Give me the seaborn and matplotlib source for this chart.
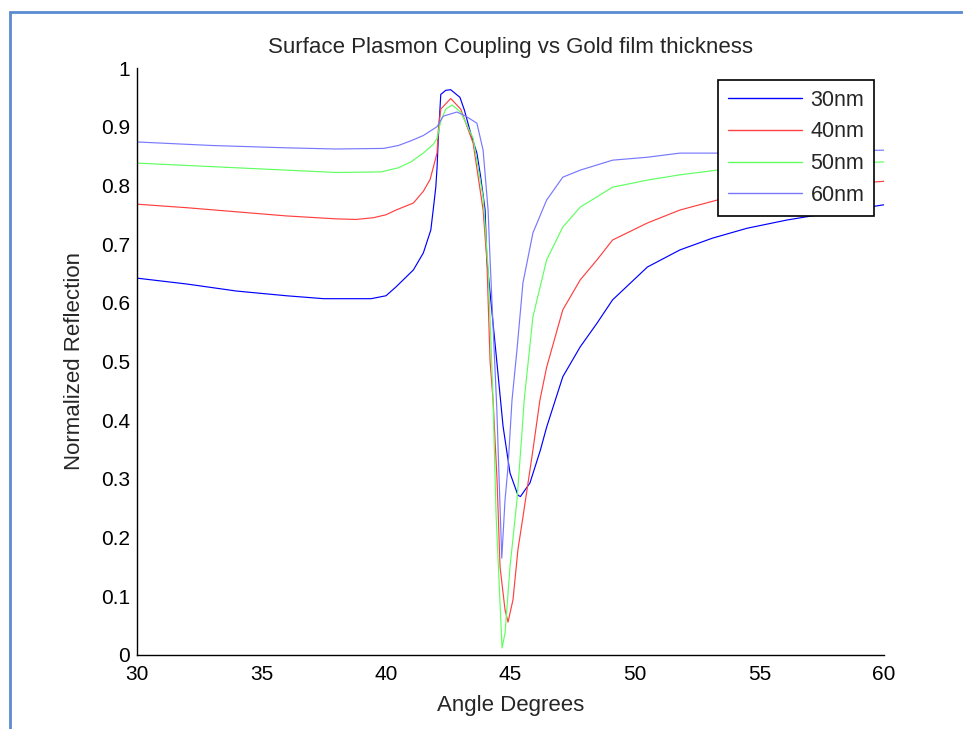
import numpy as np
import pandas as pd
import matplotlib
matplotlib.use("Agg")
import matplotlib.pyplot as plt
import seaborn as sns
from matplotlib.patches import Rectangle

# ---- data ----
x30 = [30, 32, 34, 36, 37.5, 39.4, 40.0, 40.4, 41.1, 41.5, 41.8, 41.9, 42.0, 42.05, 42.1, 42.2, 42.4, 42.6,
       42.97, 43.15, 43.4, 43.65, 43.8, 43.98, 44.05, 44.18, 44.45, 44.7, 44.98, 45.3, 45.4, 45.78, 46.2,
       46.45, 47.1, 47.8, 48.47, 49.1, 50.5, 51.8, 53.1, 54.5, 56.1, 57.1, 58.5, 60]
y30 = [0.642, 0.632, 0.620, 0.612, 0.607, 0.607, 0.612, 0.627, 0.656, 0.685, 0.724, 0.760, 0.797, 0.830, 0.880,
       0.955, 0.962, 0.963, 0.950, 0.928, 0.889, 0.855, 0.815, 0.758, 0.673, 0.617, 0.500, 0.390, 0.310, 0.272,
       0.270, 0.293, 0.349, 0.388, 0.474, 0.525, 0.565, 0.605, 0.661, 0.690, 0.710, 0.727, 0.741, 0.748, 0.757, 0.767]

x40 = [30, 32, 34, 36, 38, 38.8, 39.5, 40.0, 40.4, 41.1, 41.5, 41.77, 42.05, 42.1, 42.2, 42.6, 43.0, 43.5,
       43.9, 44.05, 44.18, 44.3, 44.46, 44.58, 44.78, 44.9, 45.1, 45.3, 45.5, 45.9, 46.18, 46.45, 47.1, 47.8,
       48.47, 49.1, 50.5, 51.8, 53.3, 55, 57, 60]
y40 = [0.768, 0.762, 0.755, 0.748, 0.743, 0.742, 0.745, 0.750, 0.758, 0.770, 0.790, 0.810, 0.855, 0.894, 0.930,
       0.948, 0.930, 0.872, 0.758, 0.673, 0.500, 0.434, 0.298, 0.150, 0.077, 0.056, 0.094, 0.180, 0.235, 0.349,
       0.434, 0.490, 0.588, 0.639, 0.673, 0.707, 0.736, 0.758, 0.775, 0.788, 0.798, 0.807]

x50 = [30, 33, 36, 38, 39.8, 40.5, 41.0, 41.5, 41.9, 42.05, 42.2, 42.4, 42.65, 43.0, 43.5, 43.9, 44.1, 44.2,
       44.3, 44.42, 44.66, 44.78, 44.98, 45.26, 45.46, 45.55, 45.9, 46.45, 47.1, 47.8, 49.1, 50.5, 51.8, 53.3,
       55, 60]
y50 = [0.838, 0.832, 0.826, 0.822, 0.823, 0.830, 0.840, 0.855, 0.870, 0.880, 0.910, 0.930, 0.937, 0.925, 0.880,
       0.780, 0.660, 0.550, 0.434, 0.240, 0.012, 0.037, 0.150, 0.264, 0.378, 0.434, 0.576, 0.673, 0.729, 0.763,
       0.797, 0.809, 0.818, 0.826, 0.832, 0.840]

x60 = [30, 33, 36, 38, 39.9, 40.5, 41.0, 41.5, 42.05, 42.3, 42.85, 43.2, 43.65, 43.9, 44.1, 44.18, 44.3, 44.45,
       44.57, 44.65, 44.78, 44.9, 45.06, 45.26, 45.5, 45.9, 46.45, 47.1, 47.8, 49.1, 50.5, 51.8, 53.3, 55, 60]
y60 = [0.874, 0.868, 0.864, 0.862, 0.863, 0.868, 0.876, 0.885, 0.900, 0.918, 0.925, 0.918, 0.906, 0.860, 0.758,
       0.673, 0.560, 0.420, 0.264, 0.165, 0.264, 0.320, 0.434, 0.520, 0.634, 0.719, 0.775, 0.814, 0.826, 0.843,
       0.848, 0.855, 0.855, 0.857, 0.860]

labels = ["30nm", "40nm", "50nm", "60nm"]
colors = ["#0000ff", "#ff4040", "#60ff60", "#7878ff"]
xticks = [30, 35, 40, 45, 50, 55, 60]
yticks = [0, 0.1, 0.2, 0.3, 0.4, 0.5, 0.6, 0.7, 0.8, 0.9, 1]
ytick_labels = ["0", "0.1", "0.2", "0.3", "0.4", "0.5", "0.6", "0.7", "0.8", "0.9", "1"]

frames = []
for lab, xs, ys in zip(labels, [x30, x40, x50, x60], [y30, y40, y50, y60]):
    frames.append(pd.DataFrame({"angle": xs, "refl": ys, "film": lab}))
df = pd.concat(frames, ignore_index=True)

sns.set_style("white")
plt.rcParams["font.family"] = ["Liberation Sans", "DejaVu Sans"]

fig = plt.figure(figsize=(9.63, 7.29), dpi=100)
ax = fig.add_axes([137 / 963, 74 / 729, 747 / 963, 587 / 729])

sns.lineplot(data=df, x="angle", y="refl", hue="film", hue_order=labels,
             palette=dict(zip(labels, colors)), estimator=None, sort=False,
             linewidth=0.85, ax=ax, legend=True)

ax.set_xlim(30, 60)
ax.set_ylim(0, 1)
ax.set_xticks(xticks)
ax.set_xticklabels([str(t) for t in xticks])
ax.set_yticks(yticks)
ax.set_yticklabels(ytick_labels)
ax.tick_params(direction="in", length=4, width=1, labelsize=15, colors="black")
ax.tick_params(axis="x", pad=7)
ax.tick_params(axis="y", pad=5)
for s in ["top", "right"]:
    ax.spines[s].set_visible(False)
for s in ["left", "bottom"]:
    ax.spines[s].set_color("black")
    ax.spines[s].set_linewidth(1.0)

ax.set_title("Surface Plasmon Coupling vs Gold film thickness", fontsize=16,
             y=(655 - 47) / 587, va="center", pad=0)
ax.set_xlabel("Angle Degrees", fontsize=16)
ax.set_ylabel("Normalized Reflection", fontsize=16)
ax.xaxis.set_label_coords(0.5, (655 - 706) / 587)
ax.xaxis.label.set_va("center")
ax.yaxis.set_label_coords((75 - 137) / 747, 0.5)
ax.yaxis.label.set_va("center")

handles, labs = ax.get_legend_handles_labels()
leg = ax.legend(handles, labs, loc="upper right", bbox_to_anchor=(0.9866, 0.9796),
                borderaxespad=0, fontsize=15.5, frameon=True, fancybox=False,
                framealpha=1, facecolor="white",
                edgecolor="black", handlelength=3.45, handletextpad=0.4,
                labelspacing=0.5, borderpad=0.45)
leg.get_frame().set_linewidth(1.2)
for h in leg.get_lines():
    h.set_linewidth(1.0)

# light blue outer frame
fig.patches.append(Rectangle((9.5 / 963, -0.05), 2.0, 1.05 - 11.5 / 729,
                             transform=fig.transFigure, fill=False,
                             edgecolor="#5b8bd0", linewidth=2.0))

fig.savefig("out.png", dpi=100)
